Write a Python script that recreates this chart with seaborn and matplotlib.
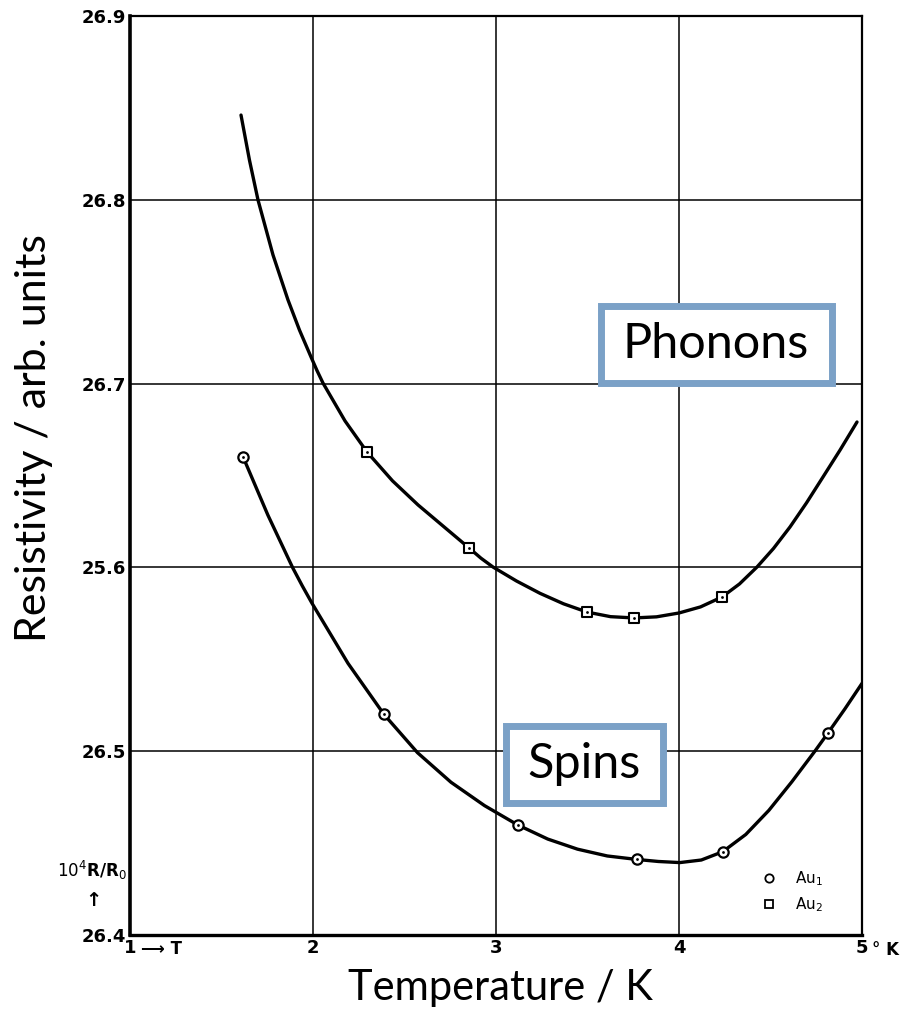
import matplotlib
matplotlib.use("Agg")
import matplotlib.pyplot as plt
from matplotlib.patches import Rectangle
from matplotlib.lines import Line2D
import seaborn as sns
import pandas as pd

# Sample Au2 (squares): traced curve and measured points
au2_curve_t = [1.6066, 1.6530, 1.6995, 1.7814, 1.8634, 1.9262, 1.9891, 2.0219, 2.0546,
               2.1749, 2.2951, 2.4344, 2.5738, 2.7131, 2.8525, 2.9180, 2.9836, 3.1120,
               3.2404, 3.3689, 3.4973, 3.6257, 3.7541, 3.8770, 4.0000, 4.1175, 4.2350,
               4.3306, 4.4262, 4.5164, 4.6066, 4.6967, 4.7869, 4.8798, 4.9727]
au2_curve_r = [26.8461, 26.8215, 26.7999, 26.7700, 26.7455, 26.7291, 26.7145, 26.7071,
               26.7003, 26.6797, 26.6628, 26.6471, 26.6340, 26.6223, 26.6106, 26.6050,
               26.6002, 26.5926, 26.5859, 26.5802, 26.5757, 26.5732, 26.5725, 26.5731,
               26.5752, 26.5785, 26.5839, 26.5910, 26.6002, 26.6103, 26.6220, 26.6351,
               26.6492, 26.6638, 26.6791]
au2_t = [2.2951, 2.8525, 3.4973, 3.7541, 4.2350]
au2_r = [26.6628, 26.6106, 26.5757, 26.5725, 26.5839]

# Sample Au1 (circles): traced curve and measured points
au1_curve_t = [1.6175, 1.7533, 1.8891, 1.9418, 1.9945, 2.1913, 2.3880, 2.5710, 2.7541,
               2.9372, 3.1202, 3.2828, 3.4454, 3.6079, 3.7705, 3.8874, 4.0046, 4.1219,
               4.2388, 4.3650, 4.4910, 4.6169, 4.7432, 4.7779, 4.8126, 4.9071, 5.0000]
au1_curve_r = [26.6602, 26.6285, 26.5998, 26.5899, 26.5805, 26.5478, 26.5200, 26.4992,
               26.4831, 26.4704, 26.4598, 26.4522, 26.4467, 26.4430, 26.4411, 26.4400,
               26.4394, 26.4408, 26.4453, 26.4547, 26.4678, 26.4834, 26.5001, 26.5049,
               26.5097, 26.5231, 26.5369]
au1_t = [1.6175, 2.3880, 3.1202, 3.7705, 4.2388, 4.8126]
au1_r = [26.6602, 26.5200, 26.4598, 26.4411, 26.4453, 26.5097]

x_ticks = [1, 2, 3, 4, 5]
x_tick_labels = ["1", "2", "3", "4", "5"]
y_ticks = [26.4, 26.5, 26.6, 26.7, 26.8, 26.9]
y_tick_labels = ["26.4", "26.5", "25.6", "26.7", "26.8", "26.9"]

sns.set_theme(style="white")
plt.rcParams["font.family"] = ["DejaVu Sans"]
plt.rcParams["text.color"] = "black"

fig = plt.figure(figsize=(9.08, 10.16), dpi=100)
ax = fig.add_axes([130 / 908, 81 / 1016, 732 / 908, 919 / 1016])

curve2 = pd.DataFrame({"T": au2_curve_t, "R": au2_curve_r})
curve1 = pd.DataFrame({"T": au1_curve_t, "R": au1_curve_r})
pts2 = pd.DataFrame({"T": au2_t, "R": au2_r})
pts1 = pd.DataFrame({"T": au1_t, "R": au1_r})

line_kw = dict(color="black", linewidth=2.4, sort=False, estimator=None)
sns.lineplot(data=curve2, x="T", y="R", ax=ax, **line_kw)
sns.lineplot(data=curve1, x="T", y="R", ax=ax, **line_kw)
for ln in ax.lines:
    ln.set_solid_joinstyle("round")
    ln.set_solid_capstyle("round")

sns.scatterplot(data=pts2, x="T", y="R", ax=ax, marker="s", s=50,
                facecolor="white", edgecolor="black", linewidth=1.5, zorder=5)
sns.scatterplot(data=pts1, x="T", y="R", ax=ax, marker="o", s=55,
                facecolor="white", edgecolor="black", linewidth=1.6, zorder=5)
# centre dots of the plotted symbols
sns.scatterplot(data=pd.concat([pts1, pts2]), x="T", y="R", ax=ax, marker="o",
                s=4, color="black", linewidth=0, zorder=6)

ax.set_xlim(1, 5)
ax.set_ylim(26.4, 26.9)
ax.set_xticks(x_ticks)
ax.set_xticklabels(x_tick_labels)
ax.set_yticks(y_ticks)
ax.set_yticklabels(y_tick_labels)
ax.tick_params(axis="both", length=0, pad=3, labelsize=13, colors="black")
for lab in ax.get_xticklabels() + ax.get_yticklabels():
    lab.set_fontweight("bold")
ax.set_xlabel("")
ax.set_ylabel("")

ax.grid(True, color="black", linewidth=1.1)
ax.set_axisbelow(True)
for side, w in [("left", 2.6), ("bottom", 2.4), ("top", 1.6), ("right", 1.6)]:
    ax.spines[side].set_visible(True)
    ax.spines[side].set_color("black")
    ax.spines[side].set_linewidth(w)

# axis annotations from the original drawing
ax.text(0.015, -0.005, "⟶ T", transform=ax.transAxes, ha="left", va="top",
        fontsize=12, fontweight="bold", color="black")
ax.text(1.0137, -0.006, "° K", transform=ax.transAxes, ha="left", va="top",
        fontsize=12, fontweight="bold", color="black")
fig.text(92 / 908, 1 - 870 / 1016, r"$10^4$R/R$_0$", ha="center", va="center",
         fontsize=12, fontweight="bold", color="black")
fig.text(93 / 908, 1 - 901 / 1016, "↑", ha="center", va="center",
         fontsize=14, fontweight="bold", color="black")

# legend for the two samples
handles = [
    Line2D([], [], linestyle="none", marker="o", markersize=6, markerfacecolor="white",
           markeredgecolor="black", markeredgewidth=1.3, label="Au$_1$"),
    Line2D([], [], linestyle="none", marker="s", markersize=6, markerfacecolor="white",
           markeredgecolor="black", markeredgewidth=1.3, label="Au$_2$"),
]
leg = ax.legend(handles=handles, loc="lower right", bbox_to_anchor=(0.965, 0.008),
                frameon=False, fontsize=11, handletextpad=0.7, labelspacing=0.45)
for t in leg.get_texts():
    t.set_color("black")

# axis titles
title_font = ["Lato", "DejaVu Sans"]
fig.text(500 / 908, 1 - 988 / 1016, "Temperature / K", ha="center", va="center",
         fontsize=30, family=title_font, color="black")
fig.text(34 / 908, 1 - 438 / 1016, "Resistivity / arb. units", ha="center",
         va="center", rotation=90, fontsize=31, family=title_font, color="black")

# labelled boxes
box_color = "#7ba1c7"
for (x0, y0, x1, y1, label) in [(600.5, 305.5, 831.5, 382.5, "Phonons"),
                                (505.5, 725.5, 662.5, 802.5, "Spins")]:
    rect = Rectangle((x0 / 908, 1 - y1 / 1016), (x1 - x0) / 908, (y1 - y0) / 1016,
                     transform=fig.transFigure, facecolor="white",
                     edgecolor=box_color, linewidth=5, zorder=10)
    fig.patches.append(rect)
    fig.text((x0 + x1) / 2 / 908, 1 - (y0 + y1) / 2 / 1016, label, ha="center",
             va="center", fontsize=35, family=title_font, color="black", zorder=11)

fig.savefig("out.png", dpi=100)
